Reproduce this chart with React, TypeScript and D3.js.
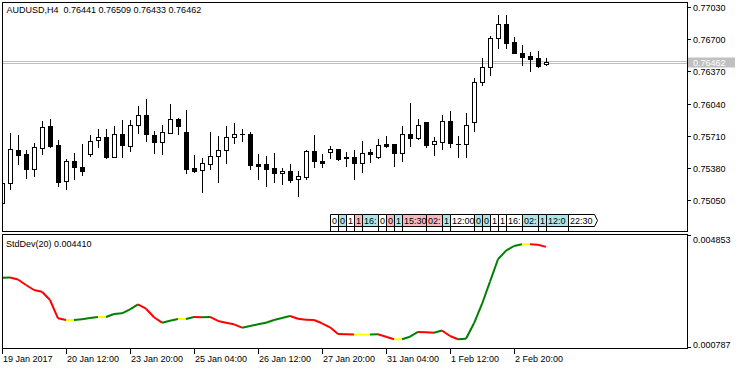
import React, { useMemo } from 'react'
import * as d3 from 'd3'

// AUDUSD H4 bars, oldest first
const opens = [
  0.75026, 0.75224, 0.75562, 0.75521, 0.75367, 0.75582, 0.75810, 0.75613, 0.75248, 0.75452,
  0.75388, 0.75521, 0.75664, 0.75695, 0.75496, 0.75728, 0.75603, 0.75820, 0.75920, 0.75715,
  0.75650, 0.75742, 0.75879, 0.75749, 0.75378, 0.75357, 0.75419, 0.75500, 0.75562, 0.75698,
  0.75728, 0.75725, 0.75422, 0.75422, 0.75381, 0.75327, 0.75350, 0.75265, 0.75292, 0.75555,
  0.75455, 0.75541, 0.75575, 0.75490, 0.75490, 0.75429, 0.75541, 0.75496, 0.75629, 0.75626,
  0.75537, 0.75728, 0.75691, 0.75851, 0.75626, 0.75650, 0.75858, 0.75626, 0.75623, 0.75848,
  0.76257, 0.76410, 0.76707, 0.76853, 0.76666, 0.76557, 0.76526, 0.76505, 0.76441,
]
const highs = [
  0.75278, 0.75742, 0.75718, 0.75565, 0.75633, 0.75861, 0.75882, 0.75664, 0.75470, 0.75531,
  0.75626, 0.75718, 0.75776, 0.75776, 0.75810, 0.75872, 0.75872, 0.76018, 0.76086, 0.75759,
  0.75820, 0.76035, 0.75887, 0.75974, 0.75514, 0.75486, 0.75752, 0.75711, 0.75807, 0.75844,
  0.75776, 0.75746, 0.75524, 0.75503, 0.75537, 0.75378, 0.75422, 0.75350, 0.75562, 0.75718,
  0.75524, 0.75606, 0.75578, 0.75544, 0.75562, 0.75657, 0.75578, 0.75674, 0.75705, 0.75629,
  0.75810, 0.76045, 0.75882, 0.75853, 0.75695, 0.75926, 0.75967, 0.75708, 0.75940, 0.76298,
  0.76502, 0.76730, 0.76945, 0.76945, 0.76720, 0.76638, 0.76564, 0.76577, 0.76509,
]
const lows = [
  0.75002, 0.75163, 0.75422, 0.75282, 0.75302, 0.75521, 0.75599, 0.75200, 0.75163, 0.75271,
  0.75312, 0.75507, 0.75592, 0.75486, 0.75494, 0.75496, 0.75555, 0.75742, 0.75657, 0.75537,
  0.75521, 0.75736, 0.75725, 0.75333, 0.75340, 0.75138, 0.75367, 0.75241, 0.75435, 0.75633,
  0.75660, 0.75367, 0.75271, 0.75200, 0.75235, 0.75214, 0.75241, 0.75098, 0.75265, 0.75394,
  0.75391, 0.75480, 0.75466, 0.75398, 0.75271, 0.75340, 0.75445, 0.75486, 0.75592, 0.75404,
  0.75455, 0.75609, 0.75674, 0.75592, 0.75511, 0.75578, 0.75599, 0.75496, 0.75496, 0.75762,
  0.76229, 0.76335, 0.76608, 0.76608, 0.76553, 0.76437, 0.76376, 0.76417, 0.76433,
]
const closes = [
  0.75224, 0.75572, 0.75517, 0.75374, 0.75592, 0.75797, 0.75609, 0.75241, 0.75452, 0.75388,
  0.75353, 0.75654, 0.75695, 0.75493, 0.75725, 0.75613, 0.75817, 0.75920, 0.75725, 0.75650,
  0.75746, 0.75879, 0.75807, 0.75374, 0.75350, 0.75429, 0.75500, 0.75562, 0.75695, 0.75728,
  0.75729, 0.75408, 0.75404, 0.75374, 0.75333, 0.75350, 0.75258, 0.75296, 0.75555, 0.75449,
  0.75435, 0.75572, 0.75473, 0.75480, 0.75429, 0.75531, 0.75521, 0.75613, 0.75609, 0.75537,
  0.75725, 0.75691, 0.75817, 0.75619, 0.75654, 0.75858, 0.75633, 0.75627, 0.75817, 0.76257,
  0.76410, 0.76707, 0.76853, 0.76662, 0.76554, 0.76519, 0.76498, 0.76427, 0.76462,
]

// StdDev(20) per bar
const stdDev = [
  0.003306, 0.003313, 0.003241, 0.003044, 0.002865, 0.002804, 0.002507, 0.001851, 0.001790, 0.001790,
  0.001815, 0.001862, 0.001898, 0.001898, 0.002005, 0.002030, 0.002174, 0.002353, 0.002195, 0.001887,
  0.001694, 0.001765, 0.001826, 0.001826, 0.001898, 0.001887, 0.001900, 0.001755, 0.001694, 0.001636,
  0.001515, 0.001575, 0.001636, 0.001694, 0.001790, 0.001862, 0.001934, 0.001837, 0.001801, 0.001790,
  0.001672, 0.001529, 0.001289, 0.001278, 0.001267, 0.001267, 0.001267, 0.001278, 0.001192, 0.001099,
  0.001099, 0.001192, 0.001361, 0.001350, 0.001335, 0.001414, 0.001217, 0.001099, 0.001121, 0.001672,
  0.002364, 0.003162, 0.003965, 0.004273, 0.004441, 0.004502, 0.004502, 0.004488, 0.004410,
]

const priceTicks = [0.77030, 0.76700, 0.76370, 0.76040, 0.75710, 0.75380, 0.75050]
const bid = 0.76462
const ask = 0.76482
const stdMax = 0.004853
const stdMin = 0.000787

const timeTickBars = [0, 8, 16, 24, 32, 40, 48, 56, 64]
const timeTickLabels = [
  '19 Jan 2017', '20 Jan 12:00', '23 Jan 20:00', '25 Jan 04:00', '26 Jan 12:00',
  '27 Jan 20:00', '31 Jan 04:00', '1 Feb 12:00', '2 Feb 20:00',
]

// calendar events (bar position, time, importance)
const eventBars = [41, 42, 43, 44, 45, 47, 48, 49, 50, 53, 55, 56, 59, 60, 61, 62, 63, 65, 67, 68, 70.8]
const eventTimes = [
  '00:30', '05:00', '10:00', '13:30', '16:00', '00:30', '07:00', '10:00', '15:30', '02:00', '10:00',
  '12:00', '00:30', '05:00', '10:00', '13:30', '16:00', '02:00', '10:30', '12:00', '22:30',
]
const eventLevels = [
  'none', 'low', 'none', 'high', 'low', 'none', 'high', 'low', 'high', 'high', 'low',
  'none', 'low', 'low', 'none', 'none', 'none', 'low', 'low', 'low', 'none',
]

const FONT = "'Liberation Sans', Arial, sans-serif"
const FS = 9
const levelColor = { none: '#ffffff', low: '#ade6e9', high: '#f7b8be' }

const px = v => Math.round(v) + 0.5

function App() {
  const measure = useMemo(() => {
    const ctx = document.createElement('canvas').getContext('2d')
    if (ctx) ctx.font = `${FS}px ${FONT}`
    return s => (ctx ? ctx.measureText(s).width : s.length * 5)
  }, [])

  const left = 2, right = 687, top = 2, mainBottom = 231
  const indTop = 234, indBottom = 348

  const x = d3.scaleLinear().domain([0, 1]).range([2, 10])
  const y = d3.scaleLinear().domain([0.75050, 0.77030]).range([200.3, 6.7])
  const yi = d3.scaleLinear().domain([stdMin, stdMax]).range([348, 234.5])
  const fmt5 = d3.format('.5f')
  const fmt6 = d3.format('.6f')

  const candles = opens.map((o, i) => {
    const c = closes[i]
    const cx = px(x(i))
    const bodyTop = Math.round(y(Math.max(o, c)))
    const bodyBot = Math.round(y(Math.min(o, c)))
    const hi = Math.round(y(highs[i]))
    const lo = Math.round(y(lows[i]))
    const bull = c >= o
    return (
      <g key={i}>
        <line x1={cx} x2={cx} y1={hi} y2={lo + 1} stroke="#000" strokeWidth={1} />
        {bodyBot - bodyTop < 1 ? (
          <line x1={cx - 2.5} x2={cx + 2.5} y1={bodyTop + 0.5} y2={bodyTop + 0.5} stroke="#000" />
        ) : (
          <rect x={cx - 2} y={bodyTop + 0.5} width={4} height={bodyBot - bodyTop}
            fill={bull ? '#fff' : '#000'} stroke="#000" strokeWidth={1} />
        )}
      </g>
    )
  })

  const segLine = d3.line().x(d => x(d[0])).y(d => yi(d[1]))
  const segments = stdDev.slice(1).map((v, j) => {
    const prev = stdDev[j]
    const col = v > prev ? '#008000' : v < prev ? '#ff0000' : '#ffff00'
    return <path key={j} d={segLine([[j, prev], [j + 1, v]])} stroke={col} strokeWidth={2} fill="none" />
  })

  // each event box is covered by the next one, so only show what fits before it
  const boxTop = 214.5, boxH = 12
  const events = eventBars.map((b, i) => {
    const bx = px(x(b))
    const full = Math.round(measure(eventTimes[i])) + 3
    const last = i === eventBars.length - 1
    const room = last ? full : px(x(eventBars[i + 1])) - bx
    const w = Math.min(full, room)
    let label = eventTimes[i]
    while (label.length > 1 && measure(label) + 0.5 > w) label = label.slice(0, -1)
    const shape = last
      ? `M${bx},${boxTop}H${bx + w}L${bx + w + 3},${boxTop + boxH / 2}L${bx + w},${boxTop + boxH}H${bx}Z`
      : `M${bx},${boxTop}H${bx + w}V${boxTop + boxH}H${bx}Z`
    return (
      <g key={i}>
        <line x1={bx} x2={bx} y1={boxTop + boxH} y2={mainBottom} stroke="#000" />
        <path d={shape} fill={levelColor[eventLevels[i]]} stroke="#000" strokeWidth={1} />
        <text x={bx + 1.5} y={boxTop + 9} fontSize={FS} fontFamily={FONT} fill="#000">{label}</text>
      </g>
    )
  })

  const bidY = Math.round(y(bid)) + 1.5
  const askY = Math.round(y(ask)) + 1.5

  return (
    <svg width={740} height={370} style={{ position: 'absolute', left: 0, top: 0, background: '#fff' }}>
      <defs>
        <clipPath id="mainClip"><rect x={left} y={top + 1} width={right - left} height={mainBottom - top - 1} /></clipPath>
        <clipPath id="indClip"><rect x={left + 1} y={indTop + 1} width={right - left - 1} height={indBottom - indTop - 1} /></clipPath>
      </defs>
      <rect x={0} y={0} width={740} height={370} fill="#fff" />

      <g clipPath="url(#mainClip)">
        <line x1={left} x2={right} y1={askY} y2={askY} stroke="#c0c0c0" />
        <line x1={left} x2={right} y1={bidY} y2={bidY} stroke="#c0c0c0" />
        {candles}
        {events}
      </g>

      <rect x={left + 0.5} y={top + 0.5} width={right - left} height={mainBottom - top} fill="none" stroke="#000" />
      <rect x={left + 0.5} y={indTop + 0.5} width={right - left} height={indBottom - indTop} fill="none" stroke="#000" />

      <text x={6.5} y={13} fontSize={FS} fontFamily={FONT} fill="#000" style={{ whiteSpace: 'pre' }}>
        {'AUDUSD,H4  0.76441 0.76509 0.76433 0.76462'}
      </text>

      {priceTicks.map(p => {
        const ty = px(y(p))
        return (
          <g key={p}>
            <line x1={right} x2={right + 4} y1={ty} y2={ty} stroke="#000" />
            <text x={right + 6} y={ty + 3.5} fontSize={FS} fontFamily={FONT} fill="#000">{fmt5(p)}</text>
          </g>
        )
      })}
      <rect x={right + 1} y={Math.round(y(bid)) - 4.5} width={47} height={10} fill="#c0c0c0" />
      <text x={right + 6} y={Math.round(y(bid)) + 4} fontSize={FS} fontFamily={FONT} fill="#fff">{fmt5(bid)}</text>

      <g clipPath="url(#indClip)">{segments}</g>
      <text x={6} y={246.5} fontSize={FS} fontFamily={FONT} fill="#000" style={{ whiteSpace: 'pre' }}>
        {`StdDev(20) ${fmt6(stdDev[stdDev.length - 1])}`}
      </text>
      <line x1={right} x2={right + 4} y1={px(yi(stdMax))} y2={px(yi(stdMax))} stroke="#000" />
      <text x={right + 6} y={242.5} fontSize={FS} fontFamily={FONT} fill="#000">{fmt6(stdMax)}</text>
      <line x1={right} x2={right + 4} y1={px(yi(stdMin)) - 1} y2={px(yi(stdMin)) - 1} stroke="#000" />
      <text x={right + 6} y={347.5} fontSize={FS} fontFamily={FONT} fill="#000">{fmt6(stdMin)}</text>

      {timeTickBars.map((b, i) => {
        const tx = px(x(b))
        return (
          <g key={b}>
            <line x1={tx} x2={tx} y1={indBottom} y2={indBottom + 6} stroke="#000" />
            <text x={tx + 0.5} y={362} fontSize={FS} fontFamily={FONT} fill="#000">{timeTickLabels[i]}</text>
          </g>
        )
      })}
    </svg>
  )
}

export default App
